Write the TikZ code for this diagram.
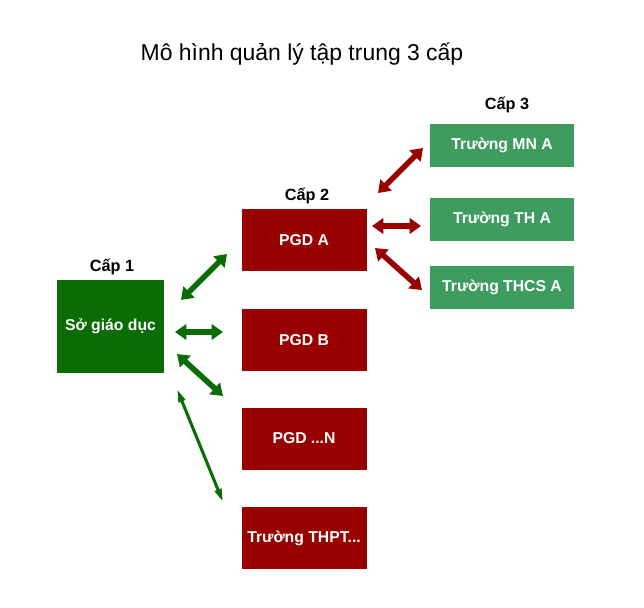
\documentclass[tikz,border=0pt]{standalone}
\usepackage{fontspec}
\setmainfont{Liberation Sans}
\usetikzlibrary{arrows.meta}
\definecolor{dgreen}{HTML}{096C05}
\definecolor{dred}{HTML}{990000}
\definecolor{lgreen}{HTML}{3E9C5E}
\begin{document}
\begin{tikzpicture}[x=0.75pt,y=-0.75pt,
  box/.style={draw=none,inner sep=0pt,text=white,font=\bfseries\fontsize{11.8pt}{14pt}\selectfont},
  lvl/.style={font=\bfseries\fontsize{12.2pt}{14pt}\selectfont},
  garrow/.style={draw=dgreen,line width=4.2pt,{Triangle[width=11.5pt,length=8.5pt]}-{Triangle[width=11.5pt,length=8.5pt]}},
  garrowthin/.style={draw=dgreen,line width=2.3pt,{Triangle[width=5pt,length=10pt]}-{Triangle[width=5pt,length=10pt]}},
  rarrow/.style={draw=dred,line width=4.2pt,{Triangle[width=11.5pt,length=8.5pt]}-{Triangle[width=11.5pt,length=8.5pt]}}]
\useasboundingbox (0,0) rectangle (644,608);
\node[font=\fontsize{17.2pt}{20pt}\selectfont] (title) at (302,54) {Mô hình quản lý tập trung 3 cấp};
\node[lvl] (c1) at (112,267) {Cấp 1};
\node[lvl] (c2) at (307,196) {Cấp 2};
\node[lvl] (c3) at (507,105) {Cấp 3};
\node[box,fill=dgreen,minimum width=80.25pt,minimum height=69.75pt] (so) at (110.5,326.5) {Sở giáo dục};
\node[box,fill=dred,minimum width=93.75pt,minimum height=46.5pt] (pa) at (304,240) {PGD A};
\node[box,fill=dred,minimum width=93.75pt,minimum height=46.5pt] (pb) at (304,340) {PGD B};
\node[box,fill=dred,minimum width=93.75pt,minimum height=46.5pt] (pn) at (304,438.5) {PGD ...N};
\node[box,fill=dred,minimum width=93.75pt,minimum height=46.5pt] (pt) at (304,538) {Trường THPT...};
\node[box,fill=lgreen,minimum width=108pt,minimum height=32.25pt] (mn) at (502,145.5) {Trường MN A};
\node[box,fill=lgreen,minimum width=108pt,minimum height=32.25pt] (th) at (502,219.5) {Trường TH A};
\node[box,fill=lgreen,minimum width=108pt,minimum height=32.25pt] (thcs) at (502,287) {Trường THCS A};
% arrow end points
\coordinate (g1a) at (181,300); \coordinate (g1b) at (227,254);
\coordinate (g2a) at (175,332); \coordinate (g2b) at (223,332);
\coordinate (g3a) at (177,354); \coordinate (g3b) at (223,396);
\coordinate (g4a) at (177,389); \coordinate (g4b) at (223,502);
\coordinate (r1a) at (378,193); \coordinate (r1b) at (423,148);
\coordinate (r2a) at (372,226); \coordinate (r2b) at (421,226);
\coordinate (r3a) at (375,248); \coordinate (r3b) at (422,290);
\draw[garrow] (g1a) -- (g1b);
\draw[garrow] (g2a) -- (g2b);
\draw[garrow] (g3a) -- (g3b);
\draw[garrowthin] (g4a) -- (g4b);
\draw[rarrow] (r1a) -- (r1b);
\draw[rarrow] (r2a) -- (r2b);
\draw[rarrow] (r3a) -- (r3b);
\end{tikzpicture}
\end{document}
